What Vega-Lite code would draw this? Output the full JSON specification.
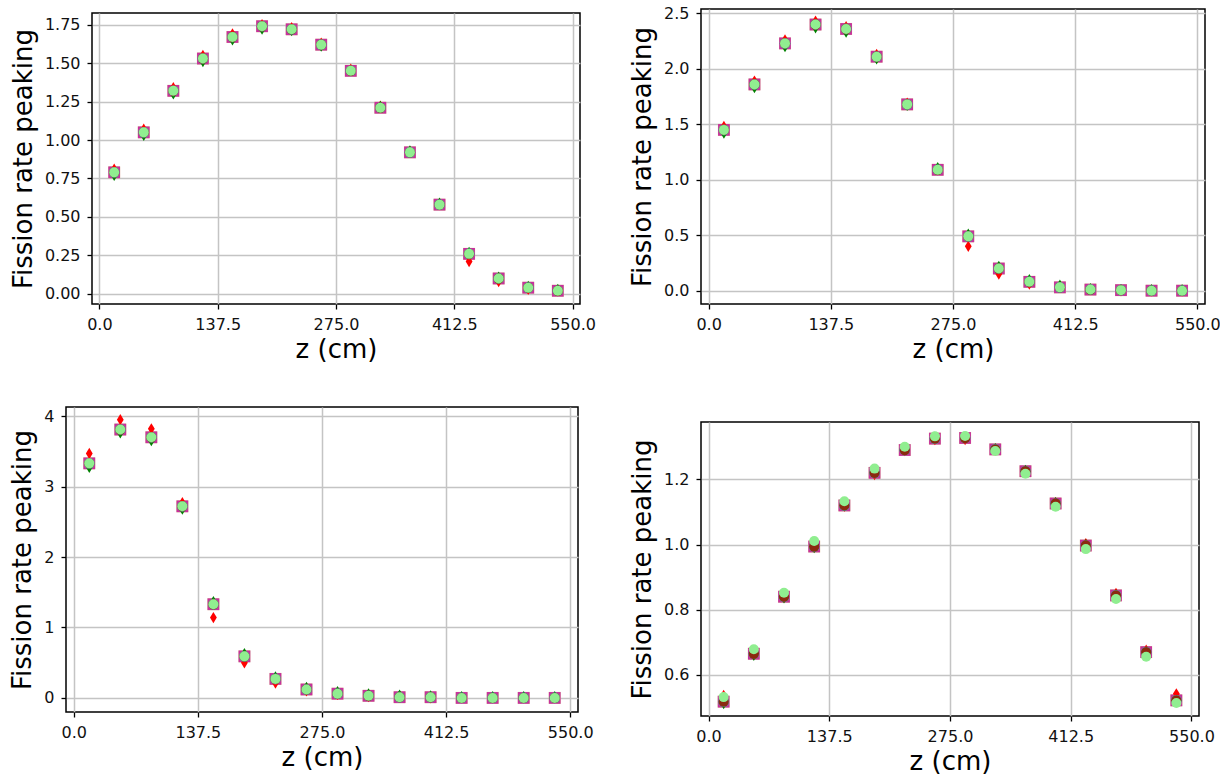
{
"$schema": "https://vega.github.io/schema/vega-lite/v6.json",
"padding": {"left": 8, "top": 4, "right": 0, "bottom": 0},
"background": "white",
"data": {"values": [
{"p":"A","z":17.19,"s":"s1","v":0.79},{"p":"A","z":51.56,"s":"s1","v":1.05},{"p":"A","z":85.94,"s":"s1","v":1.32},{"p":"A","z":120.31,"s":"s1","v":1.53},{"p":"A","z":154.69,"s":"s1","v":1.67},{"p":"A","z":189.06,"s":"s1","v":1.74},{"p":"A","z":223.44,"s":"s1","v":1.72},{"p":"A","z":257.81,"s":"s1","v":1.62},{"p":"A","z":292.19,"s":"s1","v":1.45},{"p":"A","z":326.56,"s":"s1","v":1.21},{"p":"A","z":360.94,"s":"s1","v":0.92},{"p":"A","z":395.31,"s":"s1","v":0.58},{"p":"A","z":429.69,"s":"s1","v":0.26},{"p":"A","z":464.06,"s":"s1","v":0.10},{"p":"A","z":498.44,"s":"s1","v":0.04},{"p":"A","z":532.81,"s":"s1","v":0.02},
{"p":"A","z":17.19,"s":"s2","v":0.79},{"p":"A","z":51.56,"s":"s2","v":1.05},{"p":"A","z":85.94,"s":"s2","v":1.32},{"p":"A","z":120.31,"s":"s2","v":1.53},{"p":"A","z":154.69,"s":"s2","v":1.67},{"p":"A","z":189.06,"s":"s2","v":1.74},{"p":"A","z":223.44,"s":"s2","v":1.72},{"p":"A","z":257.81,"s":"s2","v":1.62},{"p":"A","z":292.19,"s":"s2","v":1.45},{"p":"A","z":326.56,"s":"s2","v":1.21},{"p":"A","z":360.94,"s":"s2","v":0.92},{"p":"A","z":395.31,"s":"s2","v":0.58},{"p":"A","z":429.69,"s":"s2","v":0.26},{"p":"A","z":464.06,"s":"s2","v":0.10},{"p":"A","z":498.44,"s":"s2","v":0.04},{"p":"A","z":532.81,"s":"s2","v":0.02},
{"p":"A","z":17.19,"s":"s3","v":0.81},{"p":"A","z":51.56,"s":"s3","v":1.07},{"p":"A","z":85.94,"s":"s3","v":1.34},{"p":"A","z":120.31,"s":"s3","v":1.55},{"p":"A","z":154.69,"s":"s3","v":1.69},{"p":"A","z":189.06,"s":"s3","v":1.75},{"p":"A","z":223.44,"s":"s3","v":1.73},{"p":"A","z":257.81,"s":"s3","v":1.63},{"p":"A","z":292.19,"s":"s3","v":1.46},{"p":"A","z":326.56,"s":"s3","v":1.22},{"p":"A","z":360.94,"s":"s3","v":0.92},{"p":"A","z":395.31,"s":"s3","v":0.58},{"p":"A","z":429.69,"s":"s3","v":0.21},{"p":"A","z":464.06,"s":"s3","v":0.08},{"p":"A","z":498.44,"s":"s3","v":0.03},{"p":"A","z":532.81,"s":"s3","v":0.02},
{"p":"A","z":17.19,"s":"s4","v":0.77},{"p":"A","z":51.56,"s":"s4","v":1.03},{"p":"A","z":85.94,"s":"s4","v":1.30},{"p":"A","z":120.31,"s":"s4","v":1.51},{"p":"A","z":154.69,"s":"s4","v":1.65},{"p":"A","z":189.06,"s":"s4","v":1.72},{"p":"A","z":223.44,"s":"s4","v":1.71},{"p":"A","z":257.81,"s":"s4","v":1.61},{"p":"A","z":292.19,"s":"s4","v":1.45},{"p":"A","z":326.56,"s":"s4","v":1.22},{"p":"A","z":360.94,"s":"s4","v":0.93},{"p":"A","z":395.31,"s":"s4","v":0.59},{"p":"A","z":429.69,"s":"s4","v":0.27},{"p":"A","z":464.06,"s":"s4","v":0.11},{"p":"A","z":498.44,"s":"s4","v":0.05},{"p":"A","z":532.81,"s":"s4","v":0.03},
{"p":"A","z":17.19,"s":"s5","v":0.79},{"p":"A","z":51.56,"s":"s5","v":1.05},{"p":"A","z":85.94,"s":"s5","v":1.32},{"p":"A","z":120.31,"s":"s5","v":1.53},{"p":"A","z":154.69,"s":"s5","v":1.67},{"p":"A","z":189.06,"s":"s5","v":1.74},{"p":"A","z":223.44,"s":"s5","v":1.72},{"p":"A","z":257.81,"s":"s5","v":1.62},{"p":"A","z":292.19,"s":"s5","v":1.45},{"p":"A","z":326.56,"s":"s5","v":1.21},{"p":"A","z":360.94,"s":"s5","v":0.92},{"p":"A","z":395.31,"s":"s5","v":0.58},{"p":"A","z":429.69,"s":"s5","v":0.26},{"p":"A","z":464.06,"s":"s5","v":0.10},{"p":"A","z":498.44,"s":"s5","v":0.04},{"p":"A","z":532.81,"s":"s5","v":0.02},
{"p":"A","z":17.19,"s":"s6","v":0.79},{"p":"A","z":51.56,"s":"s6","v":1.05},{"p":"A","z":85.94,"s":"s6","v":1.32},{"p":"A","z":120.31,"s":"s6","v":1.53},{"p":"A","z":154.69,"s":"s6","v":1.67},{"p":"A","z":189.06,"s":"s6","v":1.74},{"p":"A","z":223.44,"s":"s6","v":1.72},{"p":"A","z":257.81,"s":"s6","v":1.62},{"p":"A","z":292.19,"s":"s6","v":1.45},{"p":"A","z":326.56,"s":"s6","v":1.21},{"p":"A","z":360.94,"s":"s6","v":0.92},{"p":"A","z":395.31,"s":"s6","v":0.58},{"p":"A","z":429.69,"s":"s6","v":0.26},{"p":"A","z":464.06,"s":"s6","v":0.10},{"p":"A","z":498.44,"s":"s6","v":0.04},{"p":"A","z":532.81,"s":"s6","v":0.02},
{"p":"A","z":17.19,"s":"s7","v":0.79},{"p":"A","z":51.56,"s":"s7","v":1.05},{"p":"A","z":85.94,"s":"s7","v":1.32},{"p":"A","z":120.31,"s":"s7","v":1.53},{"p":"A","z":154.69,"s":"s7","v":1.67},{"p":"A","z":189.06,"s":"s7","v":1.74},{"p":"A","z":223.44,"s":"s7","v":1.72},{"p":"A","z":257.81,"s":"s7","v":1.62},{"p":"A","z":292.19,"s":"s7","v":1.45},{"p":"A","z":326.56,"s":"s7","v":1.21},{"p":"A","z":360.94,"s":"s7","v":0.92},{"p":"A","z":395.31,"s":"s7","v":0.58},{"p":"A","z":429.69,"s":"s7","v":0.26},{"p":"A","z":464.06,"s":"s7","v":0.10},{"p":"A","z":498.44,"s":"s7","v":0.04},{"p":"A","z":532.81,"s":"s7","v":0.02},
{"p":"B","z":17.19,"s":"s1","v":1.45},{"p":"B","z":51.56,"s":"s1","v":1.86},{"p":"B","z":85.94,"s":"s1","v":2.23},{"p":"B","z":120.31,"s":"s1","v":2.40},{"p":"B","z":154.69,"s":"s1","v":2.36},{"p":"B","z":189.06,"s":"s1","v":2.11},{"p":"B","z":223.44,"s":"s1","v":1.68},{"p":"B","z":257.81,"s":"s1","v":1.09},{"p":"B","z":292.19,"s":"s1","v":0.49},{"p":"B","z":326.56,"s":"s1","v":0.20},{"p":"B","z":360.94,"s":"s1","v":0.08},{"p":"B","z":395.31,"s":"s1","v":0.03},{"p":"B","z":429.69,"s":"s1","v":0.01},{"p":"B","z":464.06,"s":"s1","v":0.005},{"p":"B","z":498.44,"s":"s1","v":0.0},{"p":"B","z":532.81,"s":"s1","v":0.0},
{"p":"B","z":17.19,"s":"s2","v":1.45},{"p":"B","z":51.56,"s":"s2","v":1.86},{"p":"B","z":85.94,"s":"s2","v":2.23},{"p":"B","z":120.31,"s":"s2","v":2.40},{"p":"B","z":154.69,"s":"s2","v":2.36},{"p":"B","z":189.06,"s":"s2","v":2.11},{"p":"B","z":223.44,"s":"s2","v":1.68},{"p":"B","z":257.81,"s":"s2","v":1.09},{"p":"B","z":292.19,"s":"s2","v":0.49},{"p":"B","z":326.56,"s":"s2","v":0.20},{"p":"B","z":360.94,"s":"s2","v":0.08},{"p":"B","z":395.31,"s":"s2","v":0.03},{"p":"B","z":429.69,"s":"s2","v":0.01},{"p":"B","z":464.06,"s":"s2","v":0.005},{"p":"B","z":498.44,"s":"s2","v":0.0},{"p":"B","z":532.81,"s":"s2","v":0.0},
{"p":"B","z":17.19,"s":"s3","v":1.48},{"p":"B","z":51.56,"s":"s3","v":1.89},{"p":"B","z":85.94,"s":"s3","v":2.26},{"p":"B","z":120.31,"s":"s3","v":2.43},{"p":"B","z":154.69,"s":"s3","v":2.38},{"p":"B","z":189.06,"s":"s3","v":2.13},{"p":"B","z":223.44,"s":"s3","v":1.69},{"p":"B","z":257.81,"s":"s3","v":1.09},{"p":"B","z":292.19,"s":"s3","v":0.40},{"p":"B","z":326.56,"s":"s3","v":0.15},{"p":"B","z":360.94,"s":"s3","v":0.06},{"p":"B","z":395.31,"s":"s3","v":0.03},{"p":"B","z":429.69,"s":"s3","v":0.01},{"p":"B","z":464.06,"s":"s3","v":0.0},{"p":"B","z":498.44,"s":"s3","v":0.0},{"p":"B","z":532.81,"s":"s3","v":0.0},
{"p":"B","z":17.19,"s":"s4","v":1.42},{"p":"B","z":51.56,"s":"s4","v":1.83},{"p":"B","z":85.94,"s":"s4","v":2.20},{"p":"B","z":120.31,"s":"s4","v":2.37},{"p":"B","z":154.69,"s":"s4","v":2.33},{"p":"B","z":189.06,"s":"s4","v":2.09},{"p":"B","z":223.44,"s":"s4","v":1.67},{"p":"B","z":257.81,"s":"s4","v":1.11},{"p":"B","z":292.19,"s":"s4","v":0.51},{"p":"B","z":326.56,"s":"s4","v":0.22},{"p":"B","z":360.94,"s":"s4","v":0.10},{"p":"B","z":395.31,"s":"s4","v":0.05},{"p":"B","z":429.69,"s":"s4","v":0.02},{"p":"B","z":464.06,"s":"s4","v":0.01},{"p":"B","z":498.44,"s":"s4","v":0.01},{"p":"B","z":532.81,"s":"s4","v":0.01},
{"p":"B","z":17.19,"s":"s5","v":1.45},{"p":"B","z":51.56,"s":"s5","v":1.86},{"p":"B","z":85.94,"s":"s5","v":2.23},{"p":"B","z":120.31,"s":"s5","v":2.40},{"p":"B","z":154.69,"s":"s5","v":2.36},{"p":"B","z":189.06,"s":"s5","v":2.11},{"p":"B","z":223.44,"s":"s5","v":1.68},{"p":"B","z":257.81,"s":"s5","v":1.09},{"p":"B","z":292.19,"s":"s5","v":0.49},{"p":"B","z":326.56,"s":"s5","v":0.20},{"p":"B","z":360.94,"s":"s5","v":0.08},{"p":"B","z":395.31,"s":"s5","v":0.03},{"p":"B","z":429.69,"s":"s5","v":0.01},{"p":"B","z":464.06,"s":"s5","v":0.005},{"p":"B","z":498.44,"s":"s5","v":0.0},{"p":"B","z":532.81,"s":"s5","v":0.0},
{"p":"B","z":17.19,"s":"s6","v":1.45},{"p":"B","z":51.56,"s":"s6","v":1.86},{"p":"B","z":85.94,"s":"s6","v":2.23},{"p":"B","z":120.31,"s":"s6","v":2.40},{"p":"B","z":154.69,"s":"s6","v":2.36},{"p":"B","z":189.06,"s":"s6","v":2.11},{"p":"B","z":223.44,"s":"s6","v":1.68},{"p":"B","z":257.81,"s":"s6","v":1.09},{"p":"B","z":292.19,"s":"s6","v":0.49},{"p":"B","z":326.56,"s":"s6","v":0.20},{"p":"B","z":360.94,"s":"s6","v":0.08},{"p":"B","z":395.31,"s":"s6","v":0.03},{"p":"B","z":429.69,"s":"s6","v":0.01},{"p":"B","z":464.06,"s":"s6","v":0.005},{"p":"B","z":498.44,"s":"s6","v":0.0},{"p":"B","z":532.81,"s":"s6","v":0.0},
{"p":"B","z":17.19,"s":"s7","v":1.45},{"p":"B","z":51.56,"s":"s7","v":1.86},{"p":"B","z":85.94,"s":"s7","v":2.23},{"p":"B","z":120.31,"s":"s7","v":2.40},{"p":"B","z":154.69,"s":"s7","v":2.36},{"p":"B","z":189.06,"s":"s7","v":2.11},{"p":"B","z":223.44,"s":"s7","v":1.68},{"p":"B","z":257.81,"s":"s7","v":1.09},{"p":"B","z":292.19,"s":"s7","v":0.49},{"p":"B","z":326.56,"s":"s7","v":0.20},{"p":"B","z":360.94,"s":"s7","v":0.08},{"p":"B","z":395.31,"s":"s7","v":0.03},{"p":"B","z":429.69,"s":"s7","v":0.01},{"p":"B","z":464.06,"s":"s7","v":0.005},{"p":"B","z":498.44,"s":"s7","v":0.0},{"p":"B","z":532.81,"s":"s7","v":0.0},
{"p":"C","z":17.19,"s":"s1","v":3.33},{"p":"C","z":51.56,"s":"s1","v":3.81},{"p":"C","z":85.94,"s":"s1","v":3.70},{"p":"C","z":120.31,"s":"s1","v":2.72},{"p":"C","z":154.69,"s":"s1","v":1.33},{"p":"C","z":189.06,"s":"s1","v":0.59},{"p":"C","z":223.44,"s":"s1","v":0.27},{"p":"C","z":257.81,"s":"s1","v":0.12},{"p":"C","z":292.19,"s":"s1","v":0.06},{"p":"C","z":326.56,"s":"s1","v":0.03},{"p":"C","z":360.94,"s":"s1","v":0.01},{"p":"C","z":395.31,"s":"s1","v":0.01},{"p":"C","z":429.69,"s":"s1","v":0.0},{"p":"C","z":464.06,"s":"s1","v":0.0},{"p":"C","z":498.44,"s":"s1","v":0.0},{"p":"C","z":532.81,"s":"s1","v":0.0},
{"p":"C","z":17.19,"s":"s2","v":3.33},{"p":"C","z":51.56,"s":"s2","v":3.81},{"p":"C","z":85.94,"s":"s2","v":3.70},{"p":"C","z":120.31,"s":"s2","v":2.72},{"p":"C","z":154.69,"s":"s2","v":1.33},{"p":"C","z":189.06,"s":"s2","v":0.59},{"p":"C","z":223.44,"s":"s2","v":0.27},{"p":"C","z":257.81,"s":"s2","v":0.12},{"p":"C","z":292.19,"s":"s2","v":0.06},{"p":"C","z":326.56,"s":"s2","v":0.03},{"p":"C","z":360.94,"s":"s2","v":0.01},{"p":"C","z":395.31,"s":"s2","v":0.01},{"p":"C","z":429.69,"s":"s2","v":0.0},{"p":"C","z":464.06,"s":"s2","v":0.0},{"p":"C","z":498.44,"s":"s2","v":0.0},{"p":"C","z":532.81,"s":"s2","v":0.0},
{"p":"C","z":17.19,"s":"s3","v":3.47},{"p":"C","z":51.56,"s":"s3","v":3.95},{"p":"C","z":85.94,"s":"s3","v":3.82},{"p":"C","z":120.31,"s":"s3","v":2.77},{"p":"C","z":154.69,"s":"s3","v":1.14},{"p":"C","z":189.06,"s":"s3","v":0.50},{"p":"C","z":223.44,"s":"s3","v":0.21},{"p":"C","z":257.81,"s":"s3","v":0.10},{"p":"C","z":292.19,"s":"s3","v":0.05},{"p":"C","z":326.56,"s":"s3","v":0.02},{"p":"C","z":360.94,"s":"s3","v":0.01},{"p":"C","z":395.31,"s":"s3","v":0.0},{"p":"C","z":429.69,"s":"s3","v":0.0},{"p":"C","z":464.06,"s":"s3","v":0.0},{"p":"C","z":498.44,"s":"s3","v":0.0},{"p":"C","z":532.81,"s":"s3","v":0.0},
{"p":"C","z":17.19,"s":"s4","v":3.27},{"p":"C","z":51.56,"s":"s4","v":3.76},{"p":"C","z":85.94,"s":"s4","v":3.65},{"p":"C","z":120.31,"s":"s4","v":2.68},{"p":"C","z":154.69,"s":"s4","v":1.37},{"p":"C","z":189.06,"s":"s4","v":0.63},{"p":"C","z":223.44,"s":"s4","v":0.30},{"p":"C","z":257.81,"s":"s4","v":0.15},{"p":"C","z":292.19,"s":"s4","v":0.09},{"p":"C","z":326.56,"s":"s4","v":0.06},{"p":"C","z":360.94,"s":"s4","v":0.04},{"p":"C","z":395.31,"s":"s4","v":0.03},{"p":"C","z":429.69,"s":"s4","v":0.02},{"p":"C","z":464.06,"s":"s4","v":0.02},{"p":"C","z":498.44,"s":"s4","v":0.02},{"p":"C","z":532.81,"s":"s4","v":0.02},
{"p":"C","z":17.19,"s":"s5","v":3.33},{"p":"C","z":51.56,"s":"s5","v":3.81},{"p":"C","z":85.94,"s":"s5","v":3.70},{"p":"C","z":120.31,"s":"s5","v":2.72},{"p":"C","z":154.69,"s":"s5","v":1.33},{"p":"C","z":189.06,"s":"s5","v":0.59},{"p":"C","z":223.44,"s":"s5","v":0.27},{"p":"C","z":257.81,"s":"s5","v":0.12},{"p":"C","z":292.19,"s":"s5","v":0.06},{"p":"C","z":326.56,"s":"s5","v":0.03},{"p":"C","z":360.94,"s":"s5","v":0.01},{"p":"C","z":395.31,"s":"s5","v":0.01},{"p":"C","z":429.69,"s":"s5","v":0.0},{"p":"C","z":464.06,"s":"s5","v":0.0},{"p":"C","z":498.44,"s":"s5","v":0.0},{"p":"C","z":532.81,"s":"s5","v":0.0},
{"p":"C","z":17.19,"s":"s6","v":3.33},{"p":"C","z":51.56,"s":"s6","v":3.81},{"p":"C","z":85.94,"s":"s6","v":3.70},{"p":"C","z":120.31,"s":"s6","v":2.72},{"p":"C","z":154.69,"s":"s6","v":1.33},{"p":"C","z":189.06,"s":"s6","v":0.59},{"p":"C","z":223.44,"s":"s6","v":0.27},{"p":"C","z":257.81,"s":"s6","v":0.12},{"p":"C","z":292.19,"s":"s6","v":0.06},{"p":"C","z":326.56,"s":"s6","v":0.03},{"p":"C","z":360.94,"s":"s6","v":0.01},{"p":"C","z":395.31,"s":"s6","v":0.01},{"p":"C","z":429.69,"s":"s6","v":0.0},{"p":"C","z":464.06,"s":"s6","v":0.0},{"p":"C","z":498.44,"s":"s6","v":0.0},{"p":"C","z":532.81,"s":"s6","v":0.0},
{"p":"C","z":17.19,"s":"s7","v":3.33},{"p":"C","z":51.56,"s":"s7","v":3.81},{"p":"C","z":85.94,"s":"s7","v":3.70},{"p":"C","z":120.31,"s":"s7","v":2.72},{"p":"C","z":154.69,"s":"s7","v":1.33},{"p":"C","z":189.06,"s":"s7","v":0.59},{"p":"C","z":223.44,"s":"s7","v":0.27},{"p":"C","z":257.81,"s":"s7","v":0.12},{"p":"C","z":292.19,"s":"s7","v":0.06},{"p":"C","z":326.56,"s":"s7","v":0.03},{"p":"C","z":360.94,"s":"s7","v":0.01},{"p":"C","z":395.31,"s":"s7","v":0.01},{"p":"C","z":429.69,"s":"s7","v":0.0},{"p":"C","z":464.06,"s":"s7","v":0.0},{"p":"C","z":498.44,"s":"s7","v":0.0},{"p":"C","z":532.81,"s":"s7","v":0.0},
{"p":"D","z":17.19,"s":"s1","v":0.518},{"p":"D","z":51.56,"s":"s1","v":0.665},{"p":"D","z":85.94,"s":"s1","v":0.840},{"p":"D","z":120.31,"s":"s1","v":0.994},{"p":"D","z":154.69,"s":"s1","v":1.120},{"p":"D","z":189.06,"s":"s1","v":1.220},{"p":"D","z":223.44,"s":"s1","v":1.290},{"p":"D","z":257.81,"s":"s1","v":1.325},{"p":"D","z":292.19,"s":"s1","v":1.327},{"p":"D","z":326.56,"s":"s1","v":1.292},{"p":"D","z":360.94,"s":"s1","v":1.225},{"p":"D","z":395.31,"s":"s1","v":1.126},{"p":"D","z":429.69,"s":"s1","v":0.997},{"p":"D","z":464.06,"s":"s1","v":0.844},{"p":"D","z":498.44,"s":"s1","v":0.670},{"p":"D","z":532.81,"s":"s1","v":0.522},
{"p":"D","z":17.19,"s":"s2","v":0.518},{"p":"D","z":51.56,"s":"s2","v":0.665},{"p":"D","z":85.94,"s":"s2","v":0.840},{"p":"D","z":120.31,"s":"s2","v":0.994},{"p":"D","z":154.69,"s":"s2","v":1.120},{"p":"D","z":189.06,"s":"s2","v":1.220},{"p":"D","z":223.44,"s":"s2","v":1.290},{"p":"D","z":257.81,"s":"s2","v":1.325},{"p":"D","z":292.19,"s":"s2","v":1.327},{"p":"D","z":326.56,"s":"s2","v":1.292},{"p":"D","z":360.94,"s":"s2","v":1.225},{"p":"D","z":395.31,"s":"s2","v":1.126},{"p":"D","z":429.69,"s":"s2","v":0.997},{"p":"D","z":464.06,"s":"s2","v":0.844},{"p":"D","z":498.44,"s":"s2","v":0.670},{"p":"D","z":532.81,"s":"s2","v":0.522},
{"p":"D","z":17.19,"s":"s3","v":0.537},{"p":"D","z":51.56,"s":"s3","v":0.670},{"p":"D","z":85.94,"s":"s3","v":0.845},{"p":"D","z":120.31,"s":"s3","v":0.995},{"p":"D","z":154.69,"s":"s3","v":1.118},{"p":"D","z":189.06,"s":"s3","v":1.215},{"p":"D","z":223.44,"s":"s3","v":1.288},{"p":"D","z":257.81,"s":"s3","v":1.322},{"p":"D","z":292.19,"s":"s3","v":1.322},{"p":"D","z":326.56,"s":"s3","v":1.290},{"p":"D","z":360.94,"s":"s3","v":1.227},{"p":"D","z":395.31,"s":"s3","v":1.128},{"p":"D","z":429.69,"s":"s3","v":1.003},{"p":"D","z":464.06,"s":"s3","v":0.850},{"p":"D","z":498.44,"s":"s3","v":0.676},{"p":"D","z":532.81,"s":"s3","v":0.542},
{"p":"D","z":17.19,"s":"s4","v":0.512},{"p":"D","z":51.56,"s":"s4","v":0.660},{"p":"D","z":85.94,"s":"s4","v":0.836},{"p":"D","z":120.31,"s":"s4","v":0.990},{"p":"D","z":154.69,"s":"s4","v":1.118},{"p":"D","z":189.06,"s":"s4","v":1.222},{"p":"D","z":223.44,"s":"s4","v":1.292},{"p":"D","z":257.81,"s":"s4","v":1.330},{"p":"D","z":292.19,"s":"s4","v":1.330},{"p":"D","z":326.56,"s":"s4","v":1.295},{"p":"D","z":360.94,"s":"s4","v":1.228},{"p":"D","z":395.31,"s":"s4","v":1.129},{"p":"D","z":429.69,"s":"s4","v":1.000},{"p":"D","z":464.06,"s":"s4","v":0.846},{"p":"D","z":498.44,"s":"s4","v":0.671},{"p":"D","z":532.81,"s":"s4","v":0.520},
{"p":"D","z":17.19,"s":"s5","v":0.518},{"p":"D","z":51.56,"s":"s5","v":0.665},{"p":"D","z":85.94,"s":"s5","v":0.840},{"p":"D","z":120.31,"s":"s5","v":0.994},{"p":"D","z":154.69,"s":"s5","v":1.120},{"p":"D","z":189.06,"s":"s5","v":1.220},{"p":"D","z":223.44,"s":"s5","v":1.290},{"p":"D","z":257.81,"s":"s5","v":1.325},{"p":"D","z":292.19,"s":"s5","v":1.327},{"p":"D","z":326.56,"s":"s5","v":1.292},{"p":"D","z":360.94,"s":"s5","v":1.225},{"p":"D","z":395.31,"s":"s5","v":1.126},{"p":"D","z":429.69,"s":"s5","v":0.997},{"p":"D","z":464.06,"s":"s5","v":0.844},{"p":"D","z":498.44,"s":"s5","v":0.670},{"p":"D","z":532.81,"s":"s5","v":0.522},
{"p":"D","z":17.19,"s":"s6","v":0.518},{"p":"D","z":51.56,"s":"s6","v":0.665},{"p":"D","z":85.94,"s":"s6","v":0.840},{"p":"D","z":120.31,"s":"s6","v":0.994},{"p":"D","z":154.69,"s":"s6","v":1.120},{"p":"D","z":189.06,"s":"s6","v":1.220},{"p":"D","z":223.44,"s":"s6","v":1.290},{"p":"D","z":257.81,"s":"s6","v":1.325},{"p":"D","z":292.19,"s":"s6","v":1.327},{"p":"D","z":326.56,"s":"s6","v":1.292},{"p":"D","z":360.94,"s":"s6","v":1.225},{"p":"D","z":395.31,"s":"s6","v":1.126},{"p":"D","z":429.69,"s":"s6","v":0.997},{"p":"D","z":464.06,"s":"s6","v":0.844},{"p":"D","z":498.44,"s":"s6","v":0.670},{"p":"D","z":532.81,"s":"s6","v":0.522},
{"p":"D","z":17.19,"s":"s7","v":0.532},{"p":"D","z":51.56,"s":"s7","v":0.679},{"p":"D","z":85.94,"s":"s7","v":0.852},{"p":"D","z":120.31,"s":"s7","v":1.011},{"p":"D","z":154.69,"s":"s7","v":1.133},{"p":"D","z":189.06,"s":"s7","v":1.233},{"p":"D","z":223.44,"s":"s7","v":1.300},{"p":"D","z":257.81,"s":"s7","v":1.332},{"p":"D","z":292.19,"s":"s7","v":1.333},{"p":"D","z":326.56,"s":"s7","v":1.287},{"p":"D","z":360.94,"s":"s7","v":1.217},{"p":"D","z":395.31,"s":"s7","v":1.116},{"p":"D","z":429.69,"s":"s7","v":0.986},{"p":"D","z":464.06,"s":"s7","v":0.833},{"p":"D","z":498.44,"s":"s7","v":0.656},{"p":"D","z":532.81,"s":"s7","v":0.514}
]},
"hconcat": [
{"vconcat": [
 {"width": 1, "height": 1, "view": {"stroke": null}, "transform": [{"filter": "false"}], "mark": {"type": "point", "opacity": 0}, "encoding": {}},
 {"concat": [
  {"width": 1, "height": 1, "view": {"stroke": null}, "transform": [{"filter": "false"}], "mark": {"type": "point", "opacity": 0}, "encoding": {}},
  {"width": 488, "height": 291,
   "transform": [{"filter": "datum.p === 'A'"}],
   "mark": {"type": "point", "filled": true, "opacity": 1},
   "encoding": {
    "x": {"field": "z", "type": "quantitative", "scale": {"domain": [-8.6, 558.6], "nice": false, "zero": false}, "axis": {"values": [0, 137.5, 275, 412.5, 550], "format": ".1f", "title": "z (cm)"}},
    "y": {"field": "v", "type": "quantitative", "scale": {"domain": [-0.066, 1.826], "nice": false, "zero": false}, "axis": {"values": [0, 0.25, 0.5, 0.75, 1, 1.25, 1.5, 1.75], "format": ".2f", "title": "Fission rate peaking"}},
    "color": {"field": "s", "type": "nominal", "scale": {"domain": ["s1","s2","s3","s4","s5","s6","s7"], "range": ["#d8bc94","#c8309c","#ff0000","#008000","#30c8c8","#8b2a10","#90ee90"]}, "legend": null},
    "shape": {"field": "s", "type": "nominal", "scale": {"domain": ["s1","s2","s3","s4","s5","s6","s7"], "range": ["square","square","M0,-1L0.6,0L0,1L-0.6,0Z","M0,-1L0.6,0L0,1L-0.6,0Z","circle","circle","circle"]}, "legend": null},
    "size": {"field": "s", "type": "nominal", "scale": {"domain": ["s1","s2","s3","s4","s5","s6","s7"], "range": [144, 100, 210, 210, 72, 8, 60]}, "legend": null},
    "order": {"field": "s", "sort": "ascending"}
   }},
  {"width": 1, "height": 1, "view": {"stroke": null}, "transform": [{"filter": "false"}], "mark": {"type": "point", "opacity": 0}, "encoding": {}},
  {"width": 512, "height": 305,
   "transform": [{"filter": "datum.p === 'C'"}],
   "mark": {"type": "point", "filled": true, "opacity": 1},
   "encoding": {
    "x": {"field": "z", "type": "quantitative", "scale": {"domain": [-8.6, 558.6], "nice": false, "zero": false}, "axis": {"values": [0, 137.5, 275, 412.5, 550], "format": ".1f", "title": "z (cm)"}},
    "y": {"field": "v", "type": "quantitative", "scale": {"domain": [-0.2, 4.13], "nice": false, "zero": false}, "axis": {"values": [0, 1, 2, 3, 4], "format": "d", "title": "Fission rate peaking"}},
    "color": {"field": "s", "type": "nominal", "scale": {"domain": ["s1","s2","s3","s4","s5","s6","s7"], "range": ["#d8bc94","#c8309c","#ff0000","#008000","#30c8c8","#8b2a10","#90ee90"]}, "legend": null},
    "shape": {"field": "s", "type": "nominal", "scale": {"domain": ["s1","s2","s3","s4","s5","s6","s7"], "range": ["square","square","M0,-1L0.6,0L0,1L-0.6,0Z","M0,-1L0.6,0L0,1L-0.6,0Z","circle","circle","circle"]}, "legend": null},
    "size": {"field": "s", "type": "nominal", "scale": {"domain": ["s1","s2","s3","s4","s5","s6","s7"], "range": [144, 100, 210, 210, 72, 8, 60]}, "legend": null},
    "order": {"field": "s", "sort": "ascending"}
   }}
 ], "columns": 2, "spacing": {"row": 43, "column": 0}, "align": "none"}
], "spacing": 2},
{"vconcat": [
{"width": 504, "height": 295,
 "transform": [{"filter": "datum.p === 'B'"}],
 "mark": {"type": "point", "filled": true, "opacity": 1},
 "encoding": {
  "x": {"field": "z", "type": "quantitative", "scale": {"domain": [-8.6, 558.6], "nice": false, "zero": false}, "axis": {"values": [0, 137.5, 275, 412.5, 550], "format": ".1f", "title": "z (cm)"}},
  "y": {"field": "v", "type": "quantitative", "scale": {"domain": [-0.12, 2.54], "nice": false, "zero": false}, "axis": {"values": [0, 0.5, 1, 1.5, 2, 2.5], "format": ".1f", "title": "Fission rate peaking"}},
  "color": {"field": "s", "type": "nominal", "scale": {"domain": ["s1","s2","s3","s4","s5","s6","s7"], "range": ["#d8bc94","#c8309c","#ff0000","#008000","#30c8c8","#8b2a10","#90ee90"]}, "legend": null},
  "shape": {"field": "s", "type": "nominal", "scale": {"domain": ["s1","s2","s3","s4","s5","s6","s7"], "range": ["square","square","M0,-1L0.6,0L0,1L-0.6,0Z","M0,-1L0.6,0L0,1L-0.6,0Z","circle","circle","circle"]}, "legend": null},
  "size": {"field": "s", "type": "nominal", "scale": {"domain": ["s1","s2","s3","s4","s5","s6","s7"], "range": [144, 100, 210, 210, 72, 8, 60]}, "legend": null},
  "order": {"field": "s", "sort": "ascending"}
 }},
{"width": 498, "height": 294,
 "transform": [{"filter": "datum.p === 'D'"}],
 "mark": {"type": "point", "filled": true, "opacity": 1},
 "encoding": {
  "x": {"field": "z", "type": "quantitative", "scale": {"domain": [-8.6, 558.6], "nice": false, "zero": false}, "axis": {"values": [0, 137.5, 275, 412.5, 550], "format": ".1f", "title": "z (cm)"}},
  "y": {"field": "v", "type": "quantitative", "scale": {"domain": [0.474, 1.376], "nice": false, "zero": false}, "axis": {"values": [0.6, 0.8, 1.0, 1.2], "format": ".1f", "title": "Fission rate peaking"}},
  "color": {"field": "s", "type": "nominal", "scale": {"domain": ["s1","s2","s3","s4","s5","s6","s7"], "range": ["#d8bc94","#c8309c","#ff0000","#008000","#30c8c8","#8b2a10","#90ee90"]}, "legend": null},
  "shape": {"field": "s", "type": "nominal", "scale": {"domain": ["s1","s2","s3","s4","s5","s6","s7"], "range": ["square","square","M0,-1L0.6,0L0,1L-0.6,0Z","M0,-1L0.6,0L0,1L-0.6,0Z","circle","circle","circle"]}, "legend": null},
  "size": {"field": "s", "type": "nominal", "scale": {"domain": ["s1","s2","s3","s4","s5","s6","s7"], "range": [144, 100, 210, 210, 72, 8, 60]}, "legend": null},
  "order": {"field": "s", "sort": "ascending"}
 }}
], "spacing": 58}
],
"spacing": 31,
"config": {
 "font": "DejaVu Sans",
 "view": {"stroke": "black", "strokeWidth": 1.5},
 "axis": {"grid": true, "gridColor": "#c4c4c4", "gridWidth": 1.5, "domain": false, "ticks": true, "tickColor": "black", "tickSize": 5, "tickWidth": 1.3, "labelFontSize": 16, "labelColor": "#111111", "labelPadding": 7, "labelFlush": false, "labelOverlap": false, "titleFontSize": 26, "titleFontWeight": "normal", "titleColor": "black", "titlePadding": 8},
 "axisX": {"titlePadding": 4}
}
}
